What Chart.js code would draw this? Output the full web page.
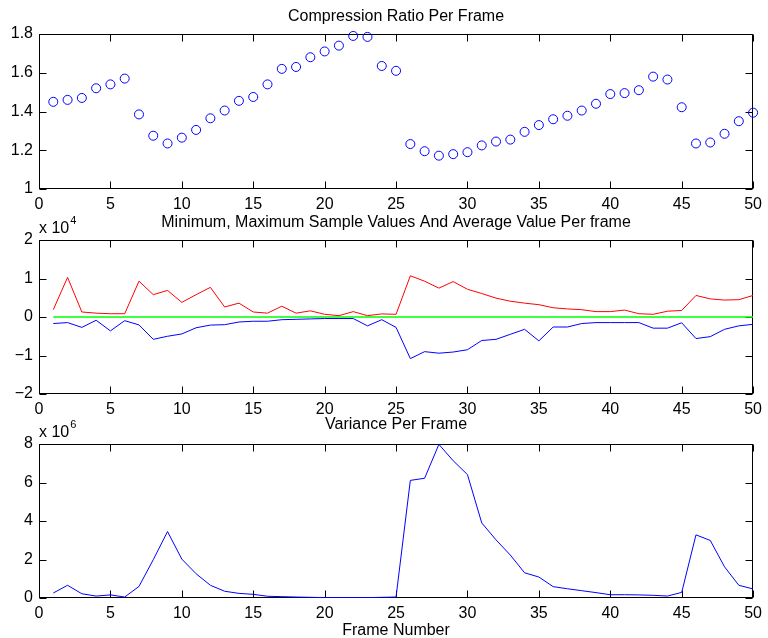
<!DOCTYPE html>
<html><head><meta charset="utf-8">
<script src="https://cdn.jsdelivr.net/npm/chart.js@4.4.1/dist/chart.umd.min.js"></script>
<style>
html,body{margin:0;padding:0;background:#fff;overflow:hidden;width:768px;height:638px}
canvas{position:absolute;left:0}
</style></head><body>
<canvas id="c1" width="768" height="215" style="top:0px;width:768px;height:215px"></canvas>
<canvas id="c2" width="768" height="220" style="top:200px;width:768px;height:220px"></canvas>
<canvas id="c3" width="768" height="240" style="top:405px;width:768px;height:240px"></canvas>
<script>
// ---- data ----
const frames = [1,2,3,4,5,6,7,8,9,10,11,12,13,14,15,16,17,18,19,20,21,22,23,24,25,26,27,28,29,30,31,32,33,34,35,36,37,38,39,40,41,42,43,44,45,46,47,48,49,50];
const compressionRatio = [1.45,1.46,1.47,1.52,1.54,1.57,1.385,1.275,1.235,1.265,1.305,1.365,1.405,1.455,1.475,1.54,1.62,1.63,1.68,1.71,1.74,1.79,1.785,1.635,1.61,1.232,1.195,1.172,1.18,1.19,1.225,1.245,1.255,1.295,1.33,1.36,1.378,1.405,1.44,1.49,1.495,1.51,1.58,1.565,1.422,1.235,1.24,1.285,1.35,1.394];
const maxSample = [1900,10300,1300,1000,850,850,9300,5800,6900,3800,5800,7700,2600,3600,1300,1000,2800,1000,1600,700,350,1400,350,800,700,10700,9300,7500,9200,7200,6100,4900,4100,3600,3200,2400,2100,1900,1400,1400,1800,850,700,1500,1700,5600,4700,4400,4500,5600];
const minSample = [-1700,-1450,-2700,-850,-3600,-950,-2050,-5800,-5000,-4400,-2800,-2100,-2000,-1300,-1100,-1100,-700,-600,-500,-400,-400,-400,-2300,-700,-2700,-10800,-9000,-9400,-9100,-8500,-6100,-5800,-4500,-3200,-6200,-2600,-2600,-1700,-1450,-1450,-1450,-1450,-2900,-2900,-1500,-5600,-5100,-3200,-2300,-1900];
const avgSample = [0,0,0,0,0,0,0,0,0,0,0,0,0,0,0,0,0,0,0,0,0,0,0,0,0,0,0,0,0,0,0,0,0,0,0,0,0,0,0,0,0,0,0,0,0,0,0,0,0,0];
const variance = [260000,660000,220000,100000,160000,50000,600000,1990000,3450000,2020000,1260000,660000,350000,240000,190000,90000,70000,50000,35000,20000,20000,20000,20000,35000,50000,6110000,6220000,7980000,7130000,6410000,3900000,3020000,2230000,1310000,1090000,590000,480000,380000,280000,170000,170000,160000,140000,100000,290000,3280000,2990000,1620000,660000,470000];
const titles = ['Compression Ratio Per Frame','Minimum, Maximum Sample Values And Average Value Per frame','Variance Per Frame'];
const xAxisTitle = 'Frame Number';

const FONT = '"Liberation Sans", Arial, Helvetica, sans-serif';
Chart.defaults.color = '#000';
Chart.defaults.font.family = FONT;

const pts = arr => arr.map((v,i) => ({x: frames[i], y: v}));

const framePlugin = {
  id: 'frame',
  beforeDatasetsDraw(chart){
    const {ctx, chartArea:{left,right,top,bottom}, scales:{x,y}} = chart;
    const L = Math.round(left)+0.5, R = Math.round(right)-0.5, T = Math.round(top)+0.5, B = Math.round(bottom)-0.5;
    const tl = 7;
    ctx.save();
    ctx.strokeStyle = '#000'; ctx.lineWidth = 1;
    ctx.beginPath();
    x.ticks.forEach(t => {
      const p = Math.round(x.getPixelForValue(t.value))+0.5;
      ctx.moveTo(p,B); ctx.lineTo(p,B-tl);
      ctx.moveTo(p,T); ctx.lineTo(p,T+tl);
    });
    y.ticks.forEach(t => {
      const p = Math.round(y.getPixelForValue(t.value))+0.5;
      ctx.moveTo(L,p); ctx.lineTo(L+tl,p);
      ctx.moveTo(R,p); ctx.lineTo(R-tl,p);
    });
    ctx.stroke();
    ctx.strokeRect(L,T,R-L,B-T);
    ctx.restore();
  }
};
const expoPlugin = {
  id: 'expo',
  afterDraw(chart, args, opts){
    if (!opts || !opts.exp) return;
    const {ctx, chartArea:{left, top}} = chart;
    ctx.save();
    ctx.fillStyle = '#000'; ctx.textAlign = 'left'; ctx.textBaseline = 'alphabetic';
    ctx.font = '16px ' + FONT;
    ctx.fillText('x 10', left, top - 7.5);
    const w = ctx.measureText('x 10').width;
    ctx.font = '11px ' + FONT;
    ctx.fillText(opts.exp, left + w + 1, top - 16.5);
    ctx.restore();
  }
};

function makeChart(id, datasets, cfg){
  return new Chart(document.getElementById(id), {
    type: 'line',
    data: {datasets},
    options: {
      responsive: false, animation: false, devicePixelRatio: 1,
      layout: {padding: {left: 0, right: 10, top: 0, bottom: 0}},
      plugins: {
        legend: {display: false}, tooltip: {enabled: false},
        title: {display: true, fullSize: false, text: cfg.title, color: '#000', font: {size: 16, weight: 'normal', family: FONT}, padding: {top: cfg.tpt, bottom: cfg.tpb}},
        expo: {exp: cfg.exp}
      },
      scales: {
        x: {
          type: 'linear', min: 0, max: 50, position: 'bottom',
          ticks: {stepSize: 5, padding: 6, color: '#000', font: {size: 16, family: FONT}, maxRotation: 0, autoSkip: false},
          grid: {display: false, drawTicks: false}, border: {display: false},
          title: cfg.xTitle ? {display: true, text: cfg.xTitle, color: '#000', font: {size: 16, family: FONT}, padding: {top: 0, bottom: cfg.xtpb}} : {display: false},
          afterFit: s => { s.height = cfg.xh; }
        },
        y: {
          type: 'linear', min: cfg.ymin, max: cfg.ymax,
          ticks: {stepSize: cfg.ystep, padding: 6, color: '#000', font: {size: 16, family: FONT}, callback: cfg.yfmt, autoSkip: false},
          grid: {display: false, drawTicks: false}, border: {display: false},
          afterFit: s => { s.width = 39; }
        }
      }
    },
    plugins: [framePlugin, expoPlugin]
  });
}

makeChart('c1', [{
  data: pts(compressionRatio), showLine: false, borderColor: '#0000ff', backgroundColor: 'rgba(0,0,0,0)',
  pointStyle: 'circle', pointRadius: 4.5, pointBorderWidth: 1, pointBorderColor: '#0000ff', pointBackgroundColor: 'rgba(0,0,0,0)', clip: false
}], {title: titles[0], tpt: 6.75, tpb: 8.05, xh: 26, ymin: 1, ymax: 1.8, ystep: 0.2,
     yfmt: v => String(Number(v.toFixed(1)))});

const lineDs = (arr, color, w) => ({data: pts(arr), borderColor: color, borderWidth: w, pointRadius: 0, tension: 0, fill: false});
makeChart('c2', [lineDs(maxSample,'#ff0000',1), lineDs(avgSample,'#00ff00',1.5), lineDs(minSample,'#0000ff',1)],
  {title: titles[1], tpt: 12.6, tpb: 8.2, xh: 26, ymin: -20000, ymax: 20000, ystep: 10000, exp: '4',
   yfmt: v => String(Math.round(v/10000)).replace('-', '\u2212')});

makeChart('c3', [lineDs(variance,'#0000ff',1)],
  {title: titles[2], tpt: 9.9, tpb: 9.9, xh: 47, xTitle: xAxisTitle, xtpb: 4.4, ymin: 0, ymax: 8000000, ystep: 2000000, exp: '6',
   yfmt: v => String(Math.round(v/1000000))});
</script>
</body></html>
